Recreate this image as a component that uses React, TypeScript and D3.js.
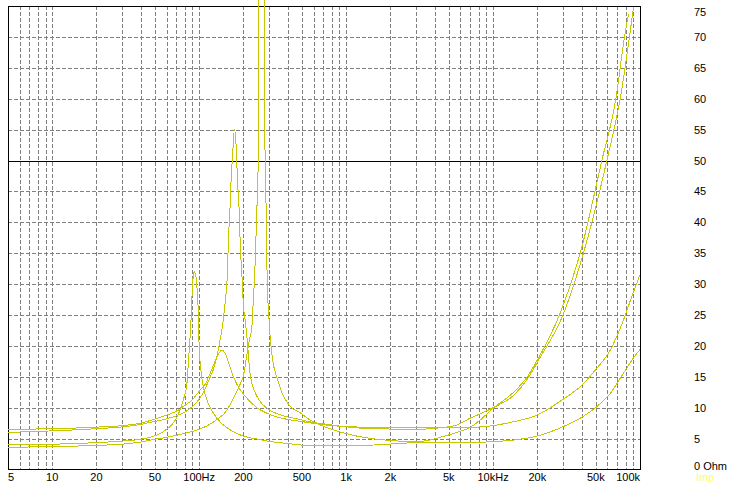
import React from "react";
import * as d3 from "d3";

// [frequency Hz, impedance Ohm]
const curveA: [number, number][] = [
  [5, 4.05], [10, 4.1], [20, 4.35], [30, 4.6], [40, 4.9], [46, 5.2], [55, 5.9], [60, 6.5],
  [66, 7.4], [70, 8.3], [74, 9.6], [78, 11.3], [82.3, 13.6], [84, 16.5], [86.7, 21.5],
  [88.5, 25.3], [89.9, 29.4], [91.5, 31.6], [92.7, 32.1], [94, 31.6], [95.3, 31.0],
  [96.5, 29.6], [98, 27.5], [99.4, 21.5], [101.4, 17.5], [104, 15], [107, 13.3],
  [112, 11.5], [119, 10], [125, 9.1], [140, 7.6], [154, 6.8], [175, 6.0], [200, 5.4],
  [250, 4.9], [300, 4.55], [400, 4.2], [500, 3.95], [700, 3.82], [1000, 3.82],
  [1500, 3.95], [2000, 4.12], [3000, 4.35], [5000, 4.4], [7000, 4.38], [10000, 4.5],
  [13800, 4.77], [20000, 5.42], [30000, 6.93], [39000, 8.28], [51000, 10.2],
  [62700, 12.3], [77200, 15.6], [95200, 18.8], [100000, 19.4],
];

const curveB: [number, number][] = [
  [5, 6.5], [10, 6.6], [20, 6.85], [30, 7.1], [40, 7.5], [46, 7.9], [60, 8.8], [72, 9.6],
  [78, 10.2], [90, 11.3], [101, 12.8], [110, 13.8], [119, 15.6], [130, 17.8],
  [142.5, 19.3], [150, 18.8], [154, 18.2], [162, 16.6], [171, 15], [190, 12.9],
  [200, 12.2], [222, 11.0], [247, 10.0], [290, 9.1], [337, 8.5], [400, 8.1], [486, 7.8],
  [600, 7.45], [800, 7.1], [1000, 6.95], [1500, 6.8], [2000, 6.75], [3000, 6.72],
  [4500, 6.74], [7000, 6.8], [9550, 7.04], [13800, 7.73], [20000, 8.82], [30000, 11.36],
  [39200, 13.4], [50900, 16.4], [62700, 19.3], [77200, 24.2], [88000, 28], [100000, 31.5],
];

const curveC: [number, number][] = [
  [5, 6.0], [10, 6.25], [20, 6.6], [30, 6.9], [40, 7.3], [46, 7.6], [60, 8.2], [70, 8.7],
  [80, 9.3], [97, 11], [107, 12.5], [119, 15], [125, 16.2], [134, 19], [140, 21.5],
  [144, 23.2], [148, 25.5], [153, 29], [156, 32.3], [158, 37], [162, 42], [165, 47],
  [169, 51], [173.5, 55], [177.4, 53.5], [180, 50], [183, 46], [187.5, 41.5], [190, 37],
  [193.5, 33], [197, 30], [200, 26.5], [206, 24], [213, 20.5], [222, 15.5], [240, 12.5],
  [260, 11], [290, 9.9], [374, 8.7], [486, 8.1], [569, 7.7], [700, 7.4], [1000, 6.9],
  [1500, 6.6], [2000, 6.55], [3000, 6.5], [4364, 6.75], [5670, 7.2], [6980, 8.3],
  [8166, 9.0], [10000, 10.0], [13800, 12.0], [17100, 14.6], [20400, 17.7], [29900, 25],
  [41200, 35], [59500, 50], [73300, 60], [84800, 70], [90300, 74.8],
];

const curveD: [number, number][] = [
  [5, 3.6], [10, 3.7], [20, 3.9], [30, 4.1], [40, 4.45], [50, 4.9], [60, 5.2], [78, 5.8],
  [100, 6.5], [120, 7.4], [132, 8.1], [150, 9.2], [171, 11.5], [190, 13.8], [200, 15.2],
  [211, 18.5], [222, 21.5], [228, 22.8], [232, 26], [240, 33], [247, 42], [252.5, 50.6],
  [254, 71], [272, 130], [278, 62.7], [281, 50], [286, 41.5], [290, 31], [297.6, 25],
  [304, 21.5], [320, 17], [337, 15], [365, 12.5], [416, 10.2], [486, 9.2], [569, 8.0],
  [700, 7.0], [1000, 5.8], [1500, 5.0], [2000, 4.7], [2900, 4.5], [3600, 4.7],
  [4364, 5.2], [5670, 6.0], [6980, 6.8], [8166, 8.0], [10000, 9.9], [13800, 12.5],
  [17100, 15], [20000, 17.7], [28300, 25], [39200, 35], [55000, 50], [68500, 60],
  [78400, 70], [83500, 73.7],
];

const series = [curveA, curveB, curveC, curveD];

const xTickValues = [5, 10, 20, 50, 100, 200, 500, 1000, 2000, 5000, 10000, 20000, 50000, 100000];
const xTickLabels = ["5", "10", "20", "50", "100Hz", "200", "500", "1k", "2k", "5k", "10kHz", "20k", "50k", "100k"];
const yTickValues = [75, 70, 65, 60, 55, 50, 45, 40, 35, 30, 25, 20, 15, 10, 5, 0];
const yTickLabels = ["75", "70", "65", "60", "55", "50", "45", "40", "35", "30", "25", "20", "15", "10", "5", "0 Ohm"];
const legendLabel = "Imp";

const W = 730;
const H = 489;
const L = 8;
const R = 640;
const T = 6;
const B = 469.5;

export default function App() {
  const x = d3.scaleLog().domain([5, 100000]).range([L, R]);
  const y = d3.scaleLinear().domain([0, 75]).range([B, T]);

  const vGrid: number[] = [];
  for (let d = 1; d <= 10000; d *= 10) {
    for (let m = 1; m <= 9; m++) {
      const f = m * d;
      if (f > 5 && f < 100000) vGrid.push(f);
    }
  }
  const hGrid = d3.range(5, 75, 5);

  const line = d3
    .line<[number, number]>()
    .x((d) => x(d[0]))
    .y((d) => y(d[1]))
    .curve(d3.curveMonotoneX);

  const font = "'Liberation Sans', Arial, sans-serif";

  return (
    <svg
      width={W}
      height={H}
      style={{ position: "absolute", left: 0, top: 0, background: "#fff" }}
      fontFamily={font}
      fontSize={11}
    >
      <rect x={0} y={0} width={W} height={H} fill="#fff" />
      {vGrid.map((f) => {
        const px = Math.round(x(f)) + 0.5;
        return (
          <line key={"v" + f} x1={px} x2={px} y1={T} y2={B} stroke="#808080" strokeDasharray="4,2" />
        );
      })}
      {hGrid.map((v) => {
        const py = Math.round(y(v)) + 0.5;
        return v === 50 ? (
          <line key={"h" + v} x1={L} x2={R} y1={py} y2={py} stroke="#000" />
        ) : (
          <line key={"h" + v} x1={L} x2={R} y1={py} y2={py} stroke="#808080" strokeDasharray="4,2" />
        );
      })}
      <rect x={L + 0.5} y={T + 0.5} width={R - L} height={B - T - 0.5} fill="none" stroke="#000" />
      {series.map((s, i) => (
        <path
          key={i}
          d={line(s) || ""}
          fill="none"
          stroke="#c8c800"
          strokeWidth={1}
          shapeRendering="crispEdges"
        />
      ))}
      {xTickValues.map((f, i) => {
        const px = x(f);
        const anchor = i === 0 ? "start" : i === xTickValues.length - 1 ? "end" : "middle";
        return (
          <text key={"xt" + f} x={i === 0 ? L : px} y={481} textAnchor={anchor} fill="#000">
            {xTickLabels[i]}
          </text>
        );
      })}
      {yTickValues.map((v, i) => {
        let by = y(v) + 4;
        if (by < 16) by = 16;
        if (v === 0) by = 470;
        return (
          <text key={"yt" + v} x={694} y={by} fill="#000">
            {yTickLabels[i]}
          </text>
        );
      })}
      <text x={696} y={481} fill="#ffff60">
        {legendLabel}
      </text>
    </svg>
  );
}
